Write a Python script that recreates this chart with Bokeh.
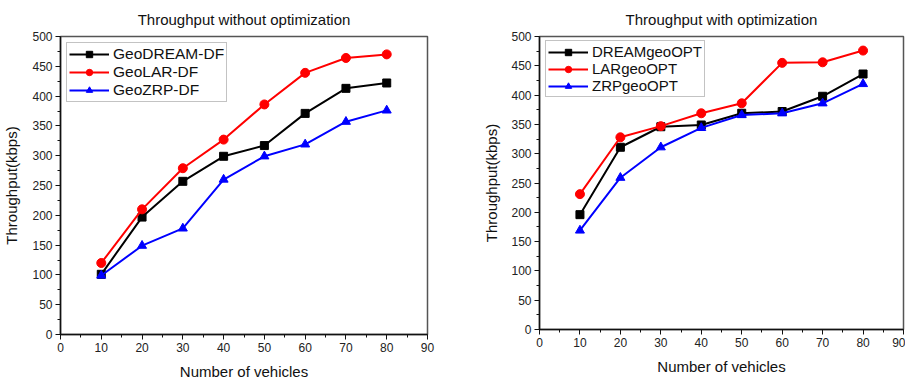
from bokeh.plotting import figure
from bokeh.layouts import row
from bokeh.models import Range1d, Legend, LegendItem, FixedTicker
from bokeh.embed import file_html
from bokeh.resources import INLINE

vehicles = [10, 20, 30, 40, 50, 60, 70, 80]

# Left chart: without optimization
geodream_df = [101, 197, 257, 299, 317, 371, 413, 422]
geolar_df = [120, 210, 279, 327, 386, 439, 464, 470]
geozrp_df = [99, 149, 178, 260, 299, 319, 357, 376]

# Right chart: with optimization
dream_opt = [196, 311, 346, 349, 369, 372, 398, 436]
lar_opt = [231, 328, 347, 369, 386, 455, 456, 476]
zrp_opt = [169, 259, 311, 344, 366, 369, 386, 419]

x_ticks = [0, 10, 20, 30, 40, 50, 60, 70, 80, 90]
y_ticks = [0, 50, 100, 150, 200, 250, 300, 350, 400, 450, 500]

FONT = "Liberation Sans"


def make_fig(title, fw, fh, bl, br, bt, bb, ylab_standoff):
    p = figure(frame_width=fw, frame_height=fh, output_backend="svg",
               toolbar_location=None, title=title,
               x_range=Range1d(0, 90), y_range=Range1d(0, 500),
               min_border_left=bl, min_border_right=br,
               min_border_top=bt, min_border_bottom=bb)
    p.title.align = "center"
    p.title.text_font = FONT
    p.title.text_font_size = "15px"
    p.title.text_font_style = "normal"
    p.title.text_color = "#111111"
    p.title.standoff = 17
    p.xgrid.visible = False
    p.ygrid.visible = False
    p.outline_line_color = "#555555"
    p.outline_line_width = 1.5
    p.background_fill_color = "white"
    for ax, ticks in ((p.xaxis[0], x_ticks), (p.yaxis[0], y_ticks)):
        minor = []
        for a, b in zip(ticks[:-1], ticks[1:]):
            minor.append((a + b) / 2)
        ax.ticker = FixedTicker(ticks=ticks, minor_ticks=minor)
        ax.axis_line_color = "#111111"
        ax.axis_line_width = 1.5
        ax.major_tick_line_color = "#111111"
        ax.minor_tick_line_color = "#111111"
        ax.major_tick_out = 5
        ax.major_tick_in = 0
        ax.minor_tick_out = 3
        ax.minor_tick_in = 0
        ax.major_label_text_font = FONT
        ax.major_label_text_font_size = "12px"
        ax.major_label_text_color = "#222222"
        ax.major_label_standoff = 3
        ax.axis_label_text_font = FONT
        ax.axis_label_text_font_size = "15px"
        ax.axis_label_text_font_style = "normal"
        ax.axis_label_text_color = "#111111"
    p.xaxis.axis_label = "Number of vehicles"
    p.yaxis.axis_label = "Throughput(kbps)"
    p.xaxis.axis_label_standoff = 8
    p.yaxis.axis_label_standoff = ylab_standoff
    return p


def add_series(p, names, series, font_size, loc):
    colors = ["#000000", "#ff0000", "#0000ff"]
    items = []
    for i, (name, ys) in enumerate(zip(names, series)):
        c = colors[i]
        r = p.line(vehicles, ys, line_color=c, line_width=2)
        if i == 0:
            m = p.scatter(vehicles, ys, marker="square", size=8, fill_color=c, line_color=c)
        elif i == 1:
            m = p.scatter(vehicles, ys, marker="circle", size=9, fill_color=c, line_color=c)
        else:
            m = p.scatter(vehicles, ys, marker="triangle", size=9, fill_color=c, line_color=c)
        items.append(LegendItem(label=name, renderers=[r, m]))
    leg = Legend(items=items, location=loc)
    leg.label_text_font = FONT
    leg.label_text_font_size = font_size
    leg.label_text_color = "#111111"
    leg.glyph_width = 40
    leg.glyph_height = 16
    leg.label_height = 16
    leg.label_standoff = 4
    leg.spacing = 0
    leg.padding = 2
    leg.margin = 0
    leg.border_line_color = "#888888"
    leg.border_line_width = 1.5
    leg.background_fill_alpha = 1.0
    p.add_layout(leg, "center")


p1 = make_fig("Throughput without optimization", 367, 298, 52, 29, 29, 40, 9)
add_series(p1, ["GeoDREAM-DF", "GeoLAR-DF", "GeoZRP-DF"],
           [geodream_df, geolar_df, geozrp_df], "15.5px", (6, 232))

p2 = make_fig("Throughput with optimization", 364, 293, 83, 2, 29, 45, 8)
add_series(p2, ["DREAMgeoOPT", "LARgeoOPT", "ZRPgeoOPT"],
           [dream_opt, lar_opt, zrp_opt], "15px", (6, 232))

layout = row(p1, p2)
open("out.html", "w").write(file_html(layout, INLINE))
